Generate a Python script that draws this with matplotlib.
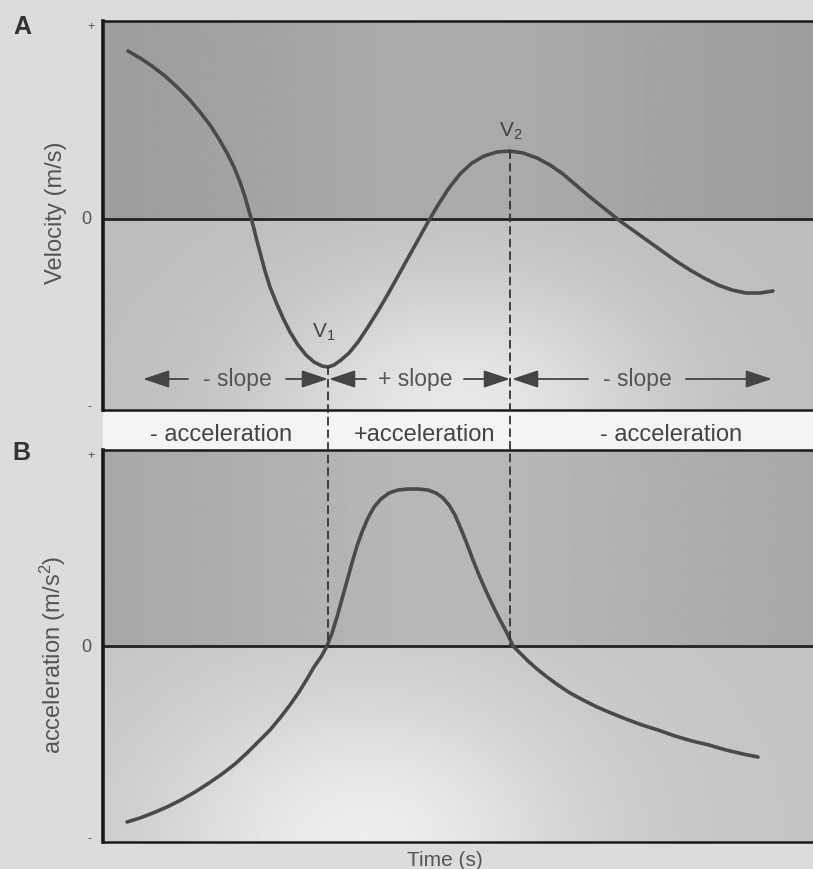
import numpy as np
import matplotlib
matplotlib.use("Agg")
import matplotlib.pyplot as plt
from matplotlib.patches import Rectangle, ConnectionPatch

plt.rcParams['font.family'] = ['Liberation Sans', 'DejaVu Sans']
plt.rcParams['mathtext.default'] = 'regular'

# Velocity trace (panel A), arbitrary time / velocity units
vel_t = [25, 37, 49, 62, 74, 86, 97, 107, 116, 124, 131, 137, 142, 146, 150, 154,
         158, 162, 167, 173, 180, 187, 195, 203, 211, 219, 225, 231, 238, 246, 255,
         265, 275, 285, 295, 305, 315, 325, 335, 346, 357, 369, 381, 394, 407, 420,
         434, 447, 460, 474, 487, 502, 517, 531, 545, 559, 573, 587, 601, 615, 629,
         643, 657, 670]
vel_v = [168, 161, 153, 143, 132, 120, 107, 94, 80, 66, 52, 37, 22, 8, -6, -22,
         -37, -52, -68, -83, -99, -113, -126, -136, -143, -147, -148, -146, -141,
         -134, -123, -108, -92, -75, -57, -39, -21, -3, 14, 31, 45, 56, 63, 67, 68,
         66, 61, 54, 45, 33, 22, 10, -2, -12, -22, -32, -42, -51, -59, -66, -71,
         -74, -74, -72]

# Acceleration trace (panel B)
acc_t = [24, 37, 50, 64, 78, 92, 106, 119, 132, 144, 156, 167, 177, 187, 196, 204,
         211, 218, 224, 229, 234, 239, 244, 249, 254, 259, 265, 271, 278, 286, 295,
         305, 315, 325, 333, 340, 346, 352, 358, 364, 370, 376, 383, 390, 397, 404,
         410, 417, 425, 434, 444, 455, 467, 480, 494, 508, 523, 539, 555, 572, 589,
         606, 623, 640, 655]
acc_a = [-176, -172, -167, -161, -154, -146, -137, -128, -118, -107, -95, -84, -72,
         -59, -46, -33, -21, -11, 0, 13, 29, 47, 65, 83, 100, 114, 128, 139, 147, 153,
         156, 157, 157, 156, 153, 148, 141, 131, 117, 102, 86, 71, 55, 40, 26, 13, 0,
         -7, -15, -23, -31, -39, -47, -54, -61, -67, -73, -79, -84, -90, -95, -99,
         -104, -108, -111]

# Extremes of the velocity curve
t_v1, v_v1 = 225, -148
t_v2, v_v2 = 407, 68

tick_labels = ['+', '0', '-']
band_labels = ['- acceleration', '+acceleration', '- acceleration']
slope_labels = ['- slope', '+ slope', '- slope']

W, H = 813, 870
fig = plt.figure(figsize=(W / 100, H / 100), dpi=100, facecolor='#dcdcdc')

def fx(px):
    return px / W

def fy(py):
    return 1 - py / H

axA = fig.add_axes([fx(103), fy(411), 1 - fx(103), fy(22) - fy(411)])
axB = fig.add_axes([fx(103), fy(843), 1 - fx(103), fy(451) - fy(843)])

ylimA = (-191, 198)
ylimB = (-196, 196)
xlim = (0, 710)


def shade(ax, ylim, up_base, up_amp, lo_base, lo_amp, cx, sx, sy):
    ny, nx = 300, 400
    yy = np.linspace(ylim[1], ylim[0], ny)[:, None]
    xx = np.linspace(0, 1, nx)[None, :]
    yf = (yy - ylim[0]) / (ylim[1] - ylim[0])
    upper = up_base + up_amp * np.exp(-((xx - 0.5) / 0.35) ** 2) + 0 * yf
    lower = lo_base + lo_amp * np.exp(-(((xx - cx) / sx) ** 2 + (yf / sy) ** 2))
    img = np.where(yy >= 0, upper, lower)
    ax.imshow(img, cmap='gray', vmin=0, vmax=1, extent=(xlim[0], xlim[1], ylim[0], ylim[1]),
              aspect='auto', interpolation='bilinear', zorder=0)


shade(axA, ylimA, 0.61, 0.06, 0.74, 0.17, 0.50, 0.28, 0.35)
shade(axB, ylimB, 0.65, 0.07, 0.77, 0.16, 0.37, 0.30, 0.40)

for ax, ylim in ((axA, ylimA), (axB, ylimB)):
    ax.set_xlim(*xlim)
    ax.set_ylim(*ylim)
    ax.set_xticks([])
    ax.set_yticks([])
    ax.spines['right'].set_visible(False)
    for s in ('left', 'top', 'bottom'):
        ax.spines[s].set_color('#1a1a1a')
    ax.spines['left'].set_linewidth(2.6)
    ax.spines['top'].set_linewidth(1.8)
    ax.spines['bottom'].set_linewidth(1.8)
    ax.axhline(0, color='#222222', lw=2.0, zorder=2)
    trans = ax.get_yaxis_transform()
    ax.text(-0.017, ylim[1] - 5, tick_labels[0], transform=trans, ha='center', va='center',
            fontsize=9, color='#555555')
    ax.text(-0.024, 0, tick_labels[1], transform=trans, ha='center', va='center',
            fontsize=13, color='#555555')
    ax.text(-0.019, ylim[0] + 4, tick_labels[2], transform=trans, ha='center', va='center',
            fontsize=9, color='#555555')

axA.plot(vel_t, vel_v, color='#4a4a4a', lw=2.6, solid_joinstyle='round',
         solid_capstyle='round', zorder=3)
axB.plot(acc_t, acc_a, color='#4a4a4a', lw=2.6, solid_joinstyle='round',
         solid_capstyle='round', zorder=3)

# Dashed guides from the velocity extremes down to the acceleration zero line
for t, v in ((t_v1, v_v1), (t_v2, v_v2)):
    con = ConnectionPatch(xyA=(t, v), coordsA=axA.transData, xyB=(t, 0), coordsB=axB.transData,
                          linestyle=(0, (4, 3)), color='#333333', lw=1.3, zorder=5)
    fig.add_artist(con)

axA.text(t_v1 - 4, -112, r'V$_1$', ha='center', va='center', fontsize=15, color='#444444')
axA.text(t_v2 + 1, 89, r'V$_2$', ha='center', va='center', fontsize=15, color='#444444')

# Slope arrows along the bottom of panel A
y_arr = -160
segments = [(40, 134, t_v1), (t_v1 + 1, 312, t_v2), (t_v2 + 2, 534, 669)]
arrow_kw = dict(arrowstyle='-|>,head_length=0.9,head_width=0.3', color='#444444', lw=1.3,
                mutation_scale=18, shrinkA=0, shrinkB=0)
half = 49
for (lo, mid, hi), lab in zip(segments, slope_labels):
    axA.text(mid, y_arr, lab, ha='center', va='center', fontsize=16.5, color='#555555',
             zorder=4)
    axA.annotate('', xy=(lo, y_arr), xytext=(mid - half, y_arr), arrowprops=arrow_kw, zorder=4)
    axA.annotate('', xy=(hi, y_arr), xytext=(mid + half, y_arr), arrowprops=arrow_kw, zorder=4)

# White strip between the two panels
fig.add_artist(Rectangle((fx(103), fy(451)), 1 - fx(103), fy(411) - fy(451),
                         transform=fig.transFigure, facecolor='#f4f4f4', edgecolor='none',
                         zorder=-1))
for x_px, lab in zip((221, 425, 671), band_labels):
    fig.text(fx(x_px), fy(435), lab, ha='center', va='center', fontsize=17, color='#444444')

fig.text(fx(56), fy(213), 'Velocity (m/s)', rotation=90, ha='center', va='center',
         fontsize=17, color='#555555')
fig.text(fx(53), fy(655), 'acceleration (m/s$^2$)', rotation=90, ha='center', va='center',
         fontsize=17, color='#555555')
fig.text(fx(445), fy(861), 'Time (s)', ha='center', va='center', fontsize=15, color='#555555')

fig.text(fx(22), fy(27), 'A', ha='center', va='center', fontsize=18, fontweight='bold',
         color='#333333')
fig.text(fx(21), fy(453), 'B', ha='center', va='center', fontsize=18, fontweight='bold',
         color='#333333')

fig.savefig('out.png', dpi=100, facecolor=fig.get_facecolor())
